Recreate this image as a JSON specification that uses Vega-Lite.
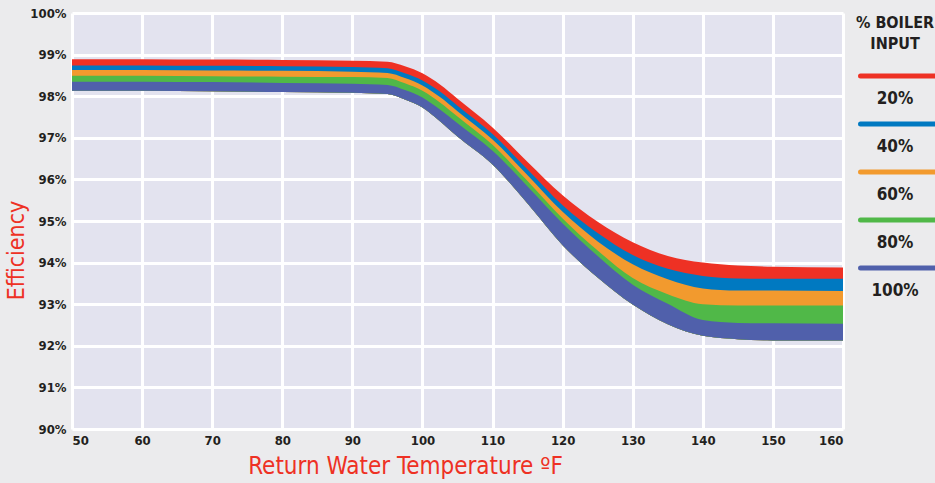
{
  "$schema": "https://vega.github.io/schema/vega-lite/v6.json",
  "width": 771,
  "height": 416,
  "autosize": "none",
  "padding": {"left": 72, "top": 13, "right": 92, "bottom": 54},
  "background": "#ebebed",
  "config": {
    "view": {"fill": "#e3e3ef", "stroke": null},
    "font": "DejaVu Sans Condensed"
  },
  "data": {"values": [
    {"t":50,"s":"20%","hi":98.89,"lo":98.13},{"t":50,"s":"40%","hi":98.74,"lo":98.13},{"t":50,"s":"60%","hi":98.63,"lo":98.13},{"t":50,"s":"80%","hi":98.49,"lo":98.13},{"t":50,"s":"100%","hi":98.35,"lo":98.13},
    {"t":60,"s":"20%","hi":98.89,"lo":98.13},{"t":60,"s":"40%","hi":98.74,"lo":98.13},{"t":60,"s":"60%","hi":98.63,"lo":98.13},{"t":60,"s":"80%","hi":98.49,"lo":98.13},{"t":60,"s":"100%","hi":98.35,"lo":98.13},
    {"t":70,"s":"20%","hi":98.88,"lo":98.12},{"t":70,"s":"40%","hi":98.73,"lo":98.12},{"t":70,"s":"60%","hi":98.62,"lo":98.12},{"t":70,"s":"80%","hi":98.48,"lo":98.12},{"t":70,"s":"100%","hi":98.34,"lo":98.12},
    {"t":80,"s":"20%","hi":98.87,"lo":98.10},{"t":80,"s":"40%","hi":98.72,"lo":98.10},{"t":80,"s":"60%","hi":98.61,"lo":98.10},{"t":80,"s":"80%","hi":98.47,"lo":98.10},{"t":80,"s":"100%","hi":98.32,"lo":98.10},
    {"t":90,"s":"20%","hi":98.85,"lo":98.08},{"t":90,"s":"40%","hi":98.70,"lo":98.08},{"t":90,"s":"60%","hi":98.59,"lo":98.08},{"t":90,"s":"80%","hi":98.46,"lo":98.08},{"t":90,"s":"100%","hi":98.30,"lo":98.08},
    {"t":95,"s":"20%","hi":98.83,"lo":98.05},{"t":95,"s":"40%","hi":98.67,"lo":98.05},{"t":95,"s":"60%","hi":98.56,"lo":98.05},{"t":95,"s":"80%","hi":98.44,"lo":98.05},{"t":95,"s":"100%","hi":98.27,"lo":98.05},
    {"t":97.5,"s":"20%","hi":98.72,"lo":97.92},{"t":97.5,"s":"40%","hi":98.55,"lo":97.92},{"t":97.5,"s":"60%","hi":98.44,"lo":97.92},{"t":97.5,"s":"80%","hi":98.31,"lo":97.92},{"t":97.5,"s":"100%","hi":98.15,"lo":97.92},
    {"t":100,"s":"20%","hi":98.55,"lo":97.73},{"t":100,"s":"40%","hi":98.38,"lo":97.73},{"t":100,"s":"60%","hi":98.26,"lo":97.73},{"t":100,"s":"80%","hi":98.13,"lo":97.73},{"t":100,"s":"100%","hi":97.97,"lo":97.73},
    {"t":102.5,"s":"20%","hi":98.28,"lo":97.40},{"t":102.5,"s":"40%","hi":98.11,"lo":97.40},{"t":102.5,"s":"60%","hi":97.98,"lo":97.40},{"t":102.5,"s":"80%","hi":97.85,"lo":97.40},{"t":102.5,"s":"100%","hi":97.68,"lo":97.40},
    {"t":105,"s":"20%","hi":97.94,"lo":97.03},{"t":105,"s":"40%","hi":97.77,"lo":97.03},{"t":105,"s":"60%","hi":97.64,"lo":97.03},{"t":105,"s":"80%","hi":97.51,"lo":97.03},{"t":105,"s":"100%","hi":97.35,"lo":97.03},
    {"t":110,"s":"20%","hi":97.25,"lo":96.36},{"t":110,"s":"40%","hi":97.09,"lo":96.36},{"t":110,"s":"60%","hi":96.96,"lo":96.36},{"t":110,"s":"80%","hi":96.83,"lo":96.36},{"t":110,"s":"100%","hi":96.69,"lo":96.36},
    {"t":115,"s":"20%","hi":96.42,"lo":95.42},{"t":115,"s":"40%","hi":96.24,"lo":95.42},{"t":115,"s":"60%","hi":96.10,"lo":95.42},{"t":115,"s":"80%","hi":95.96,"lo":95.42},{"t":115,"s":"100%","hi":95.83,"lo":95.42},
    {"t":120,"s":"20%","hi":95.62,"lo":94.42},{"t":120,"s":"40%","hi":95.38,"lo":94.42},{"t":120,"s":"60%","hi":95.22,"lo":94.42},{"t":120,"s":"80%","hi":95.06,"lo":94.42},{"t":120,"s":"100%","hi":94.94,"lo":94.42},
    {"t":125,"s":"20%","hi":94.98,"lo":93.64},{"t":125,"s":"40%","hi":94.71,"lo":93.64},{"t":125,"s":"60%","hi":94.51,"lo":93.64},{"t":125,"s":"80%","hi":94.29,"lo":93.64},{"t":125,"s":"100%","hi":94.16,"lo":93.64},
    {"t":130,"s":"20%","hi":94.49,"lo":92.99},{"t":130,"s":"40%","hi":94.18,"lo":92.99},{"t":130,"s":"60%","hi":93.96,"lo":92.99},{"t":130,"s":"80%","hi":93.63,"lo":92.99},{"t":130,"s":"100%","hi":93.47,"lo":92.99},
    {"t":135,"s":"20%","hi":94.16,"lo":92.52},{"t":135,"s":"40%","hi":93.85,"lo":92.52},{"t":135,"s":"60%","hi":93.60,"lo":92.52},{"t":135,"s":"80%","hi":93.24,"lo":92.52},{"t":135,"s":"100%","hi":93.01,"lo":92.52},
    {"t":140,"s":"20%","hi":94.00,"lo":92.24},{"t":140,"s":"40%","hi":93.68,"lo":92.24},{"t":140,"s":"60%","hi":93.38,"lo":92.24},{"t":140,"s":"80%","hi":93.00,"lo":92.24},{"t":140,"s":"100%","hi":92.62,"lo":92.24},
    {"t":145,"s":"20%","hi":93.93,"lo":92.16},{"t":145,"s":"40%","hi":93.62,"lo":92.16},{"t":145,"s":"60%","hi":93.33,"lo":92.16},{"t":145,"s":"80%","hi":92.97,"lo":92.16},{"t":145,"s":"100%","hi":92.55,"lo":92.16},
    {"t":150,"s":"20%","hi":93.90,"lo":92.13},{"t":150,"s":"40%","hi":93.61,"lo":92.13},{"t":150,"s":"60%","hi":93.33,"lo":92.13},{"t":150,"s":"80%","hi":92.97,"lo":92.13},{"t":150,"s":"100%","hi":92.54,"lo":92.13},
    {"t":160,"s":"20%","hi":93.88,"lo":92.13},{"t":160,"s":"40%","hi":93.61,"lo":92.13},{"t":160,"s":"60%","hi":93.32,"lo":92.13},{"t":160,"s":"80%","hi":92.97,"lo":92.13},{"t":160,"s":"100%","hi":92.53,"lo":92.13}
  ]},
  "mark": {"type": "area", "interpolate": "monotone", "opacity": 1},
  "encoding": {
    "x": {
      "field": "t", "type": "quantitative",
      "scale": {"domain": [50, 160], "nice": false, "zero": false},
      "axis": {
        "values": [50,60,70,80,90,100,110,120,130,140,150,160],
        "title": "Return Water Temperature ºF",
        "titleColor": "#ee3124", "titleFontSize": 24, "titleFontWeight": "normal",
        "titleX": 333, "titleY": 25,
        "labelFontSize": 13, "labelFontWeight": "bold", "labelColor": "#231f20",
        "labelPadding": 5,
        "grid": true, "gridColor": "#ffffff", "gridWidth": 3, "gridOpacity": 1,
        "domain": false, "ticks": false
      }
    },
    "y": {
      "field": "hi", "type": "quantitative", "stack": null,
      "scale": {"domain": [90, 100], "nice": false, "zero": false},
      "axis": {
        "values": [90,91,92,93,94,95,96,97,98,99,100],
        "labelExpr": "datum.value + '%'",
        "title": "Efficiency",
        "titleColor": "#ee3124", "titleFontSize": 23, "titleFontWeight": "normal",
        "titleX": -44, "titleY": 237,
        "labelFontSize": 13, "labelFontWeight": "bold", "labelColor": "#231f20",
        "labelPadding": 6,
        "grid": true, "gridColor": "#ffffff", "gridWidth": 3, "gridOpacity": 1,
        "domain": false, "ticks": false
      }
    },
    "y2": {"field": "lo"},
    "color": {
      "field": "s", "type": "nominal",
      "scale": {
        "domain": ["20%","40%","60%","80%","100%"],
        "range": ["#ee3124","#0079c1","#f29a2e","#50b848","#5060ab"]
      },
      "legend": {
        "orient": "none", "legendX": 784, "legendY": 2,
        "title": ["% BOILER", "INPUT"],
        "titleFontSize": 16, "titleFontWeight": "bold", "titleColor": "#231f20",
        "titleAlign": "center", "titleAnchor": "middle", "titleLineHeight": 21,
        "titlePadding": 14,
        "symbolType": "M-5,0H5", "symbolSize": 225, "symbolStrokeWidth": 5,
        "symbolOpacity": 1,
        "labelFontSize": 17, "labelFontWeight": "bold", "labelColor": "#231f20",
        "labelAlign": "center", "labelOffset": -13,
        "rowPadding": 7,
        "encode": {
          "title": {"update": {"dx": {"value": -22}}},
          "labels": {"update": {"dy": {"value": 23}}},
          "symbols": {"update": {"stroke": {"scale": "color", "field": "value"}, "strokeWidth": {"value": 5}, "strokeCap": {"value": "round"}}}
        }
      }
    }
  }
}
